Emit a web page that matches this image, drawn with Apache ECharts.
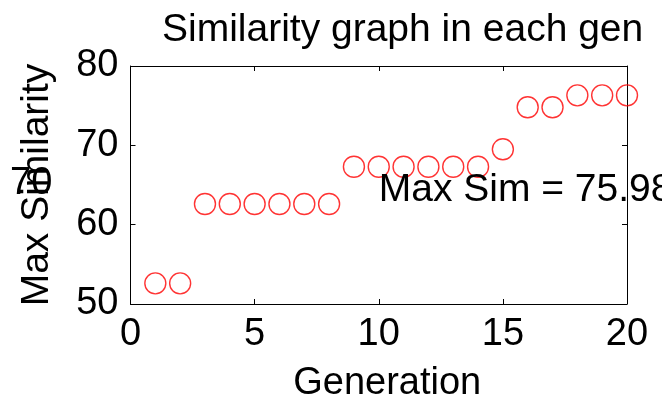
<!DOCTYPE html>
<html><head><meta charset="utf-8">
<script src="https://cdn.jsdelivr.net/npm/echarts@6/dist/echarts.min.js"></script>
<style>html,body{margin:0;padding:0;background:#fff}#c{width:662px;height:400px}</style>
</head><body><div id="c"></div>
<script>
const generations = [1,2,3,4,5,6,7,8,9,10,11,12,13,14,15,16,17,18,19,20];
const maxSimilarity = [52.6,52.6,62.6,62.6,62.6,62.6,62.6,62.6,67.3,67.3,67.3,67.3,67.3,67.3,69.5,74.8,74.8,76.3,76.3,76.3];
const titleText = 'Similarity graph in each gen';
const xName = 'Generation';
const yName = 'Max Similarity';
const annotationText = 'Max Sim = 75.98';
const annotationPos = [10, 64.4];
const strayLabel = '70';

const FONT = "'Liberation Sans', Arial, sans-serif";
const chart = echarts.init(document.getElementById('c'), null, {renderer: 'canvas'});
const axisLine = {show: true, onZero: false, lineStyle: {color: '#000', width: 1}};
const axisTick = {show: true, inside: true, length: 5, lineStyle: {color: '#000', width: 1}};
chart.setOption({
  backgroundColor: '#fff',
  animation: false,
  title: {text: titleText, left: 157, top: 6, textStyle: {fontFamily: FONT, fontSize: 39, fontWeight: 'normal', color: '#000'}},
  grid: {left: 130.5, right: 35, top: 66, bottom: 96, containLabel: false, outerBoundsMode: 'none'},
  xAxis: [{
    type: 'value', min: 0, max: 20, interval: 5, position: 'bottom',
    name: xName, nameLocation: 'middle', nameGap: 61,
    nameTextStyle: {fontFamily: FONT, fontSize: 38, color: '#000', padding: [0, 0, 0, 17]},
    axisLine, axisTick, splitLine: {show: false},
    axisLabel: {fontFamily: FONT, fontSize: 38, color: '#000', margin: 12}
  }, {
    type: 'value', min: 0, max: 20, interval: 5, position: 'top',
    axisLine, axisTick, splitLine: {show: false}, axisLabel: {show: false}
  }],
  yAxis: [{
    type: 'value', min: 50, max: 80, interval: 10, position: 'left',
    name: yName, nameLocation: 'middle', nameGap: 74, nameRotate: 90,
    nameTextStyle: {fontFamily: FONT, fontSize: 39, color: '#000'},
    axisLine, axisTick, splitLine: {show: false},
    axisLabel: {fontFamily: FONT, fontSize: 38, color: '#000', margin: 12}
  }, {
    type: 'value', min: 50, max: 80, interval: 10, position: 'right',
    axisLine, axisTick, splitLine: {show: false}, axisLabel: {show: false}
  }],
  series: [{
    type: 'scatter', xAxisIndex: 0, yAxisIndex: 0, clip: false,
    symbol: 'circle', symbolSize: 21,
    itemStyle: {color: 'rgba(0,0,0,0)', borderColor: '#ff0000', borderWidth: 1.4},
    emphasis: {disabled: true},
    data: generations.map((g, i) => [g, maxSimilarity[i]])
  }]
});
const p = chart.convertToPixel({gridIndex: 0}, annotationPos);
chart.setOption({
  graphic: [
    {type: 'text', x: p[0], y: p[1], z: 100,
     style: {text: annotationText, fill: '#000', font: '39px ' + FONT, align: 'left', verticalAlign: 'middle'}},
    {type: 'text', x: 10, y: 165, z: 100,
     style: {text: strayLabel, fill: '#000', font: '38px ' + FONT, align: 'left', verticalAlign: 'top'}}
  ]
});
</script></body></html>
